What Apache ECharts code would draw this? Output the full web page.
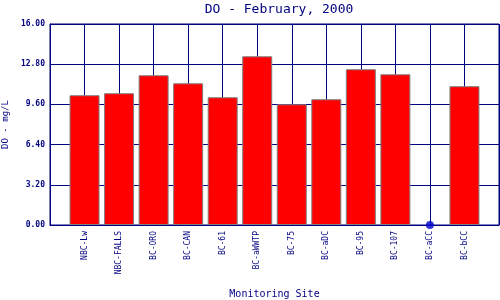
<!DOCTYPE html>
<html>
<head>
<meta charset="utf-8">
<script src="https://cdn.jsdelivr.net/npm/echarts@6/dist/echarts.min.js"></script>
<style>html,body{margin:0;padding:0;background:#fff}#c{width:500px;height:300px}</style>
</head>
<body>
<div id="c"></div>
<script>
var categories = ['NBC-Lw','NBC-FALLS','BC-ORO','BC-CAN','BC-61','BC-aWWTP','BC-75','BC-aDC','BC-95','BC-107','BC-aCC','BC-bCC'];
var values = [10.33, 10.49, 11.92, 11.28, 10.17, 13.43, 9.61, 10.01, 12.40, 12.00, 0, 11.05];
var yTicks = [0, 3.2, 6.4, 9.6, 12.8, 16];

var navy = '#000080';
var mono = '"DejaVu Sans Mono", "Liberation Mono", monospace';
var barData = values.map(function (v, i) { return v > 0 ? [i + 1, v] : [i + 1, '-']; });
var dotData = [];
values.forEach(function (v, i) { if (v === 0) dotData.push([i + 1, v]); });

var chart = echarts.init(document.getElementById('c'), null, { renderer: 'canvas' });
chart.setOption({
  animation: false,
  backgroundColor: '#ffffff',
  title: {
    text: 'DO - February, 2000',
    left: 274, top: -2, textAlign: 'center',
    textStyle: { color: navy, fontFamily: mono, fontSize: 13, fontWeight: 'normal' }
  },
  grid: { left: 50, right: 1, top: 24, bottom: 75, containLabel: false, outerBoundsMode: 'none',
          show: true, borderColor: navy, borderWidth: 1, backgroundColor: '#fff' },
  xAxis: {
    type: 'value', min: 0, max: categories.length + 1, interval: 1,
    name: 'Monitoring Site', nameLocation: 'middle', nameGap: 64,
    nameTextStyle: { color: navy, fontFamily: mono, fontSize: 10 },
    axisLine: { show: true, lineStyle: { color: navy, width: 1 } },
    axisTick: { show: false },
    splitLine: { show: true, lineStyle: { color: navy, width: 1 } },
    axisLabel: {
      rotate: 90, margin: 6, color: navy, fontFamily: mono, fontSize: 8,
      showMinLabel: true, showMaxLabel: true, hideOverlap: false,
      formatter: function (v) { return categories[v - 1] || ''; }
    }
  },
  yAxis: {
    type: 'value', min: yTicks[0], max: yTicks[yTicks.length - 1], interval: 3.2,
    name: 'DO - mg/L', nameLocation: 'middle', nameGap: 38, nameRotate: 90,
    nameTextStyle: { color: navy, fontFamily: mono, fontSize: 9 },
    axisLine: { show: true, lineStyle: { color: navy, width: 1 } },
    axisTick: { show: false },
    splitLine: { show: true, lineStyle: { color: navy, width: 1 } },
    axisLabel: {
      margin: 5, color: navy, fontFamily: mono, fontSize: 8, fontWeight: 'bold',
      formatter: function (v) { return v.toFixed(2); }
    }
  },
  series: [
    {
      type: 'bar', data: barData, barWidth: 30,
      itemStyle: { color: '#ff0000', borderColor: '#808080', borderWidth: 1 }
    },
    {
      type: 'scatter', data: dotData, symbol: 'circle', symbolSize: 8, clip: false,
      itemStyle: { color: '#0000cc' }
    }
  ]
});
</script>
</body>
</html>
